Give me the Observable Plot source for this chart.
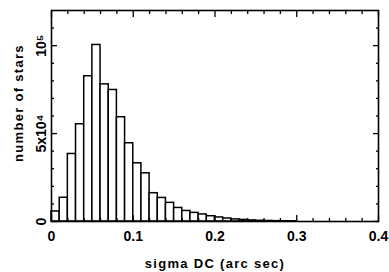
<!DOCTYPE html>
<html><head><meta charset="utf-8">
<script src="https://cdn.jsdelivr.net/npm/d3@7"></script>
<script src="https://cdn.jsdelivr.net/npm/@observablehq/plot@0.6"></script>
<style>
body{margin:0;background:#fff;}
svg{font-family:"Liberation Sans",Arial,sans-serif;font-weight:bold;}
g.title text{letter-spacing:1.3px;}
</style></head>
<body><div id="chart"></div>
<script>
const binLo = [0,0.01,0.02,0.03,0.04,0.05,0.06,0.07,0.08,0.09,0.10,0.11,0.12,0.13,0.14,0.15,0.16,0.17,0.18,0.19,0.20,0.21,0.22,0.23,0.24,0.25,0.26,0.27,0.28,0.29];
const binHi = [0.01,0.02,0.03,0.04,0.05,0.06,0.07,0.08,0.09,0.10,0.11,0.12,0.13,0.14,0.15,0.16,0.17,0.18,0.19,0.20,0.21,0.22,0.23,0.24,0.25,0.26,0.27,0.28,0.29,0.30];
const counts = [5700,13500,38400,55300,82600,100400,78000,74800,59300,44500,33100,27400,16100,13400,10600,7700,6000,4900,4000,3000,2300,1700,1200,900,600,400,300,200,150,100];
const xMajor = [0,0.1,0.2,0.3,0.4];
const xMajorLabels = ["0","0.1","0.2","0.3","0.4"];
const xMinor = [0.02,0.04,0.06,0.08,0.12,0.14,0.16,0.18,0.22,0.24,0.26,0.28,0.32,0.34,0.36,0.38];
const yMajor = [0,50000,100000];
const yMajorLabels = ["0","5x10\u2074","10\u2075"];
const yMinor = [10000,20000,30000,40000,60000,70000,80000,90000,110000];
const xTitle = "sigma DC (arc sec)";
const yTitle = "number of stars";

const bins = binLo.map((lo,i)=>({lo, hi: binHi[i], n: counts[i]}));
const noLabel = () => "";
const chart = Plot.plot({
  width: 389, height: 272,
  marginLeft: 51, marginRight: 11, marginTop: 10, marginBottom: 51,
  style: {fontFamily: "Liberation Sans, Arial, sans-serif", fontWeight: "bold", color: "#000", background: "#fff"},
  x: {domain: [0,0.4]},
  y: {domain: [0,120000]},
  marks: [
    Plot.rectY(bins, {x1: "lo", x2: "hi", y: "n", fill: "white", stroke: "black", strokeWidth: 1.5}),
    Plot.axisX({anchor: "bottom", ticks: xMajor, tickSize: -6, tickFormat: noLabel, strokeWidth: 1.3, label: null}),
    Plot.axisX({anchor: "bottom", ticks: xMinor, tickSize: -3, tickFormat: noLabel, strokeWidth: 1.3, label: null}),
    Plot.axisX({anchor: "top", ticks: xMajor, tickSize: -6, tickFormat: noLabel, strokeWidth: 1.3, label: null}),
    Plot.axisX({anchor: "top", ticks: xMinor, tickSize: -3, tickFormat: noLabel, strokeWidth: 1.3, label: null}),
    Plot.axisY({anchor: "left", ticks: yMajor, tickSize: -6, tickFormat: noLabel, strokeWidth: 1.3, label: null}),
    Plot.axisY({anchor: "left", ticks: yMinor, tickSize: -3, tickFormat: noLabel, strokeWidth: 1.3, label: null}),
    Plot.axisY({anchor: "right", ticks: yMajor, tickSize: -6, tickFormat: noLabel, strokeWidth: 1.3, label: null}),
    Plot.axisY({anchor: "right", ticks: yMinor, tickSize: -3, tickFormat: noLabel, strokeWidth: 1.3, label: null}),
    Plot.text(xMajor, {x: d => d, text: (d,i) => xMajorLabels[i], frameAnchor: "bottom", textAnchor: "middle", dy: 19, fontSize: 14, fill: "black"}),
    Plot.text(yMajor, {y: d => d, text: (d,i) => yMajorLabels[i], frameAnchor: "left", textAnchor: "middle", dx: -10, rotate: -90, fontSize: 14, fill: "black"}),
    Plot.text([xTitle], {text: d => d, frameAnchor: "bottom", textAnchor: "middle", dy: 46, fontSize: 13, fill: "black", className: "title"}),
    Plot.text([yTitle], {text: d => d, frameAnchor: "left", textAnchor: "middle", dx: -33, dy: -13, rotate: -90, fontSize: 13, fill: "black", className: "title"}),
    Plot.frame({stroke: "black", strokeWidth: 1.6})
  ]
});
document.getElementById("chart").appendChild(chart);
</script></body></html>
